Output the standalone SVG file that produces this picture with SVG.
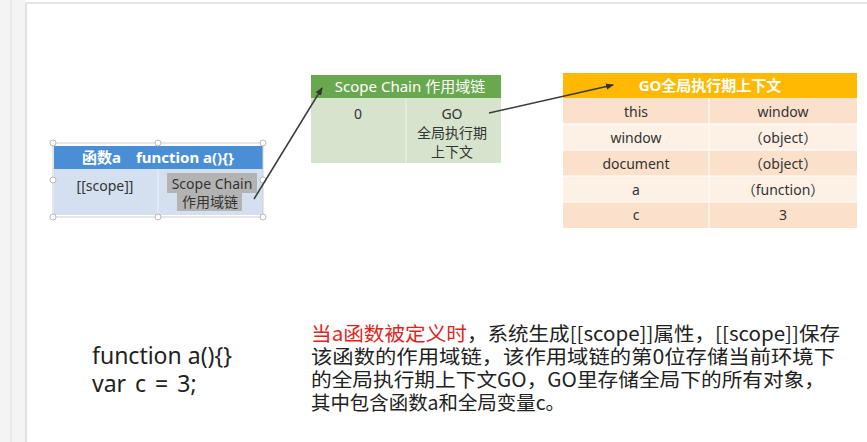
<svg xmlns="http://www.w3.org/2000/svg" width="867" height="442" viewBox="0 0 867 442">
<defs>
<marker id="ah" markerWidth="8" markerHeight="8" refX="7" refY="4" orient="auto" markerUnits="userSpaceOnUse">
<path d="M0,0.8 L8,4 L0,7.2 Z" fill="#333"/>
</marker>
<style>
text{font-family:"Noto Sans","Noto Sans CJK SC",sans-serif;}
.c{text-anchor:middle;}
.cell{font-size:14px;fill:#333;}
.hd{font-size:15px;fill:#fff;}
.b{font-weight:bold;}
.para{font-size:19.5px;fill:#222;font-family:"Noto Sans CJK SC","Noto Sans",sans-serif;}
.red{fill:#e0261c;}
.code{font-size:23px;fill:#222;}
.hnd{fill:#fff;stroke:#b8b8b8;stroke-width:1;}
.conn{stroke:#3a3a3a;stroke-width:1.5;fill:none;}
</style>
</defs>
<rect width="867" height="442" fill="#fff"/>
<rect x="0" y="0" width="26" height="442" fill="#f4f4f4"/>
<line x1="11" y1="0" x2="11" y2="442" stroke="#e4e4e4" stroke-width="1.5"/>
<line x1="26" y1="3" x2="26" y2="442" stroke="#d8d8d8" stroke-width="1.5"/>
<line x1="26" y1="3" x2="867" y2="3" stroke="#dcdcdc" stroke-width="1.5"/>

<g id="func-a">
<rect x="54" y="146" width="209" height="23" fill="#4a8fd6"/>
<rect x="54" y="169" width="209" height="46" fill="#d4e0ef"/>
<line x1="158" y1="169" x2="158" y2="215" stroke="#eef3f9" stroke-width="1"/>
<text class="hd b c" x="158" y="163" font-size="14">函数a　function a(){}</text>
<text class="cell c" x="105" y="191" font-size="15">[[scope]]</text>
<rect x="167" y="173" width="90" height="20" fill="#b3b3b3"/>
<rect x="177" y="193" width="65" height="18" fill="#b3b3b3"/>
<text class="cell c" fill="#555" font-size="15"><tspan x="212" y="189">Scope Chain</tspan><tspan x="210" y="207">作用域链</tspan></text>
<rect x="53" y="143" width="210" height="74" fill="none" stroke="#cfcfcf" stroke-width="1"/>
<circle class="hnd" cx="53" cy="143" r="3"/>
<circle class="hnd" cx="158" cy="143" r="3"/>
<circle class="hnd" cx="263" cy="143" r="3"/>
<circle class="hnd" cx="53" cy="180" r="3"/>
<circle class="hnd" cx="263" cy="180" r="3"/>
<circle class="hnd" cx="53" cy="217" r="3"/>
<circle class="hnd" cx="158" cy="217" r="3"/>
<circle class="hnd" cx="263" cy="217" r="3"/>
</g>

<g id="scope-chain">
<rect x="311" y="75" width="190" height="23" fill="#6aa84f"/>
<rect x="311" y="98" width="190" height="65" fill="#d6e4cd"/>
<line x1="406" y1="98" x2="406" y2="163" stroke="#eef4ea" stroke-width="1"/>
<text class="hd c" x="410" y="92">Scope Chain 作用域链</text>
<text class="cell c" x="358" y="119" font-size="15">0</text>
<text class="cell c" font-size="15"><tspan x="452" y="119">GO</tspan><tspan x="452" y="138">全局执行期</tspan><tspan x="452" y="157">上下文</tspan></text>
</g>

<g id="go-context">
<rect x="563" y="73" width="294" height="25" fill="#ffb900"/>
<rect x="563" y="98" width="294" height="26" fill="#fbe1cb"/>
<rect x="563" y="124" width="294" height="26" fill="#fdf0e5"/>
<rect x="563" y="150" width="294" height="26" fill="#fbe1cb"/>
<rect x="563" y="176" width="294" height="26" fill="#fdf0e5"/>
<rect x="563" y="202" width="294" height="26" fill="#fbe1cb"/>
<line x1="709" y1="98" x2="709" y2="228" stroke="#fff" stroke-width="1"/>
<line x1="563" y1="124" x2="857" y2="124" stroke="#fff" stroke-width="1"/>
<line x1="563" y1="150" x2="857" y2="150" stroke="#fff" stroke-width="1"/>
<line x1="563" y1="176" x2="857" y2="176" stroke="#fff" stroke-width="1"/>
<line x1="563" y1="202" x2="857" y2="202" stroke="#fff" stroke-width="1"/>
<text class="hd b c" x="710" y="91" font-size="16">GO全局执行期上下文</text>
<text class="cell c" x="636" y="117">this</text>
<text class="cell c" x="783" y="117">window</text>
<text class="cell c" x="636" y="143">window</text>
<text class="cell c" x="783" y="143">（object）</text>
<text class="cell c" x="636" y="169">document</text>
<text class="cell c" x="783" y="169">（object）</text>
<text class="cell c" x="636" y="195">a</text>
<text class="cell c" x="783" y="195">（function）</text>
<text class="cell c" x="636" y="220">c</text>
<text class="cell c" x="783" y="220">3</text>
</g>

<g id="connectors">
<line class="conn" x1="254" y1="199" x2="322" y2="88" marker-end="url(#ah)"/>
<line class="conn" x1="489" y1="113" x2="613" y2="85" marker-end="url(#ah)"/>
</g>

<g id="code">
<text class="code"><tspan x="92" y="364">function a(){}</tspan><tspan x="92" y="392" word-spacing="3">var c = 3;</tspan></text>
</g>

<g id="explanation">
<text class="para"><tspan class="red" x="311" y="341" textLength="156" lengthAdjust="spacingAndGlyphs">当a函数被定义时</tspan><tspan x="467" y="341" textLength="373" lengthAdjust="spacingAndGlyphs">，系统生成[[scope]]属性，[[scope]]保存</tspan><tspan x="311" y="364" textLength="524" lengthAdjust="spacingAndGlyphs">该函数的作用域链，该作用域链的第0位存储当前环境下</tspan><tspan x="311" y="387" textLength="514" lengthAdjust="spacingAndGlyphs">的全局执行期上下文GO，GO里存储全局下的所有对象，</tspan><tspan x="311" y="410" textLength="254" lengthAdjust="spacingAndGlyphs">其中包含函数a和全局变量c。</tspan></text>
</g>
</svg>
